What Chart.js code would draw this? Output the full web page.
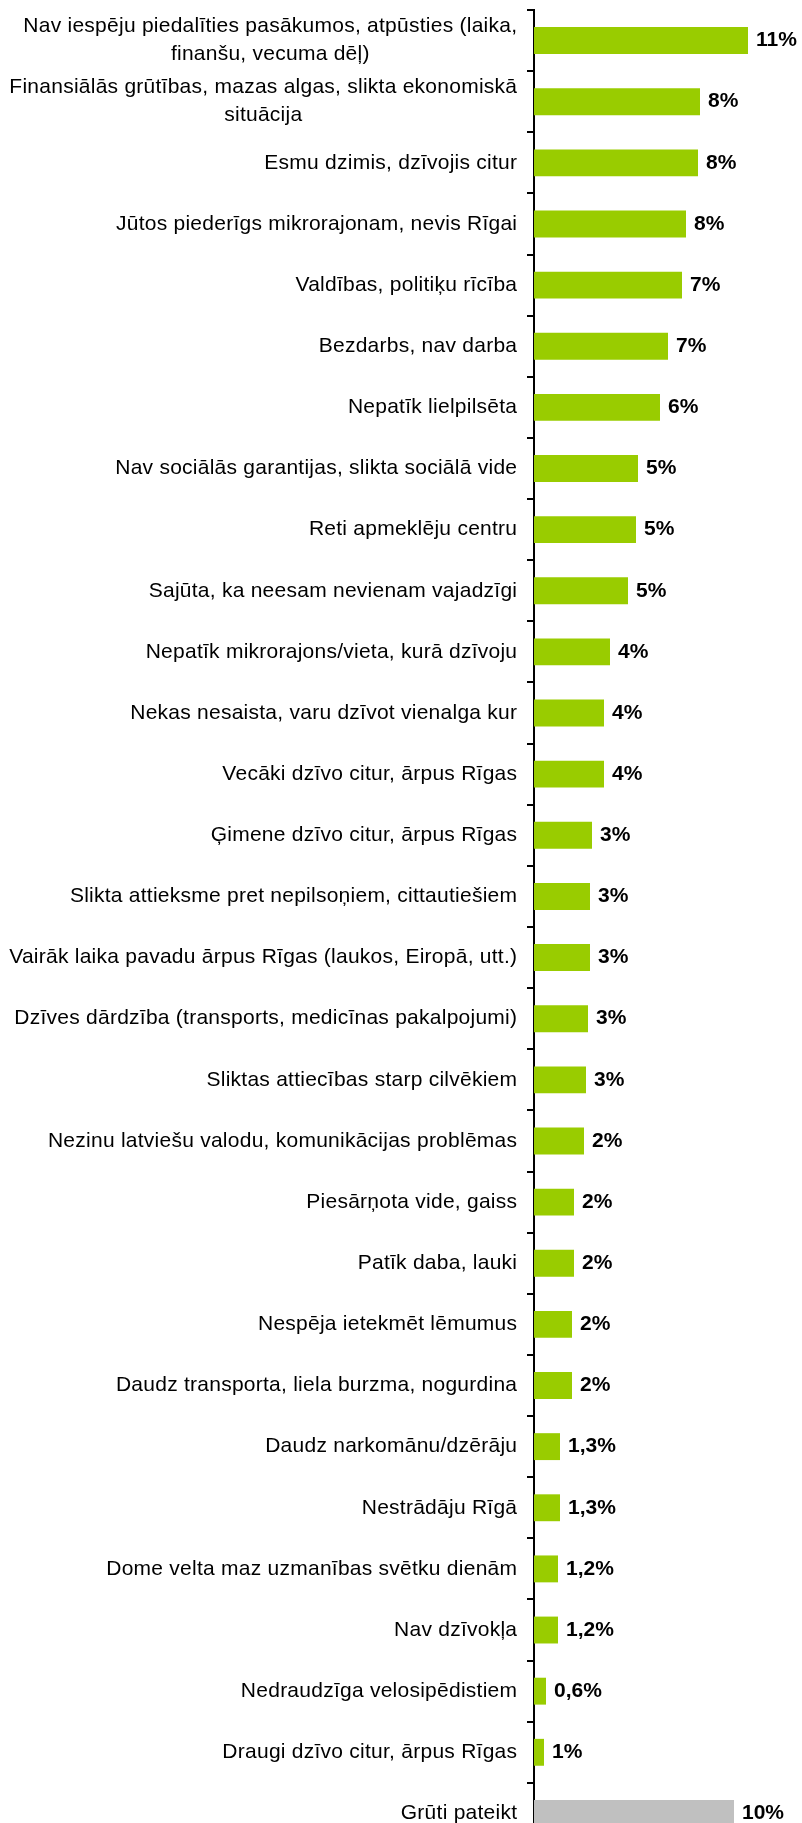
<!DOCTYPE html>
<html>
<head>
<meta charset="utf-8">
<script src="https://cdn.jsdelivr.net/npm/chart.js@4"></script>
<style>
  html, body { margin: 0; padding: 0; background: #ffffff; overflow: hidden; }
  #wrap { width: 802px; height: 1850px; }
</style>
</head>
<body>
<div id="wrap"><canvas id="c" width="802" height="1850"></canvas></div>
<script>
// Categories (multi-line labels are arrays of lines)
const categories = [
  ["Nav iespēju piedalīties pasākumos, atpūsties (laika,", "finanšu, vecuma dēļ)"],
  ["Finansiālās grūtības, mazas algas, slikta ekonomiskā", "situācija"],
  "Esmu dzimis, dzīvojis citur",
  "Jūtos piederīgs mikrorajonam, nevis Rīgai",
  "Valdības, politiķu rīcība",
  "Bezdarbs, nav darba",
  "Nepatīk lielpilsēta",
  "Nav sociālās garantijas, slikta sociālā vide",
  "Reti apmeklēju centru",
  "Sajūta, ka neesam nevienam vajadzīgi",
  "Nepatīk mikrorajons/vieta, kurā dzīvoju",
  "Nekas nesaista, varu dzīvot vienalga kur",
  "Vecāki dzīvo citur, ārpus Rīgas",
  "Ģimene dzīvo citur, ārpus Rīgas",
  "Slikta attieksme pret nepilsoņiem, cittautiešiem",
  "Vairāk laika pavadu ārpus Rīgas (laukos, Eiropā, utt.)",
  "Dzīves dārdzība (transports, medicīnas pakalpojumi)",
  "Sliktas attiecības starp cilvēkiem",
  "Nezinu latviešu valodu, komunikācijas problēmas",
  "Piesārņota vide, gaiss",
  "Patīk daba, lauki",
  "Nespēja ietekmēt lēmumus",
  "Daudz transporta, liela burzma, nogurdina",
  "Daudz narkomānu/dzērāju",
  "Nestrādāju Rīgā",
  "Dome velta maz uzmanības svētku dienām",
  "Nav dzīvokļa",
  "Nedraudzīga velosipēdistiem",
  "Draugi dzīvo citur, ārpus Rīgas",
  "Grūti pateikt"
];

// Bar lengths (percent)
const values = [
  10.7, 8.3, 8.2, 7.6, 7.4, 6.7, 6.3, 5.2, 5.1, 4.7,
  3.8, 3.5, 3.5, 2.9, 2.8, 2.8, 2.7, 2.6, 2.5, 2.0,
  2.0, 1.9, 1.9, 1.3, 1.3, 1.2, 1.2, 0.6, 0.5, 10.0
];

// Value labels as printed in the picture
const valueLabels = [
  "11%", "8%", "8%", "8%", "7%", "7%", "6%", "5%", "5%", "5%",
  "4%", "4%", "4%", "3%", "3%", "3%", "3%", "3%", "2%", "2%",
  "2%", "2%", "2%", "1,3%", "1,3%", "1,2%", "1,2%", "0,6%", "1%", "10%"
];

const GREEN = "#99CC00";
const GREY = "#C0C0C0";
const barColors = categories.map((c, i) => i === categories.length - 1 ? GREY : GREEN);

const AXIS_X = 534;
const LABEL_RIGHT = 517;
const LS = 0.25;

const labelPlugin = {
  id: 'customLabels',
  afterDatasetsDraw(chart) {
    const ctx = chart.ctx;
    const yScale = chart.scales.y;
    const meta = chart.getDatasetMeta(0);
    ctx.save();
    // category labels
    ctx.fillStyle = '#000000';
    ctx.font = '21px "Liberation Sans", Arial, sans-serif';
    ctx.textBaseline = 'middle';
    if ('letterSpacing' in ctx) ctx.letterSpacing = LS + 'px';
    categories.forEach((cat, i) => {
      const y = yScale.getPixelForValue(i);
      const lines = Array.isArray(cat) ? cat : [cat];
      const lh = 28;
      if (lines.length === 1) {
        ctx.textAlign = 'right';
        ctx.fillText(lines[0], LABEL_RIGHT + LS, y);
      } else {
        const widest = Math.max(...lines.map(l => ctx.measureText(l).width));
        const cx = LABEL_RIGHT + LS - widest / 2;
        ctx.textAlign = 'center';
        lines.forEach((l, k) => {
          ctx.fillText(l, cx, y + (k - (lines.length - 1) / 2) * lh);
        });
      }
    });
    // value labels
    if ('letterSpacing' in ctx) ctx.letterSpacing = '0px';
    ctx.font = 'bold 21px "Liberation Sans", Arial, sans-serif';
    ctx.textAlign = 'left';
    meta.data.forEach((bar, i) => {
      ctx.fillText(valueLabels[i], bar.x + 8, bar.y);
    });
    ctx.restore();
  }
};

new Chart(document.getElementById('c'), {
  type: 'bar',
  data: {
    labels: categories,
    datasets: [{
      data: values,
      backgroundColor: barColors,
      borderWidth: 0,
      barPercentage: 0.44,
      categoryPercentage: 1.0
    }]
  },
  options: {
    indexAxis: 'y',
    responsive: false,
    animation: false,
    devicePixelRatio: 1,
    layout: { padding: { top: 10, bottom: 6, left: 0, right: 8 } },
    plugins: {
      legend: { display: false },
      tooltip: { enabled: false },
      title: { display: false }
    },
    scales: {
      x: {
        display: false,
        min: 0,
        max: 13
      },
      y: {
        type: 'category',
        afterFit(scale) { scale.width = AXIS_X; },
        ticks: { display: false },
        grid: {
          display: true,
          drawOnChartArea: false,
          drawTicks: true,
          tickLength: 7,
          offset: true,
          color: '#000000',
          lineWidth: 2
        },
        border: { display: true, color: '#000000', width: 2 }
      }
    }
  },
  plugins: [labelPlugin]
});
</script>
</body>
</html>
